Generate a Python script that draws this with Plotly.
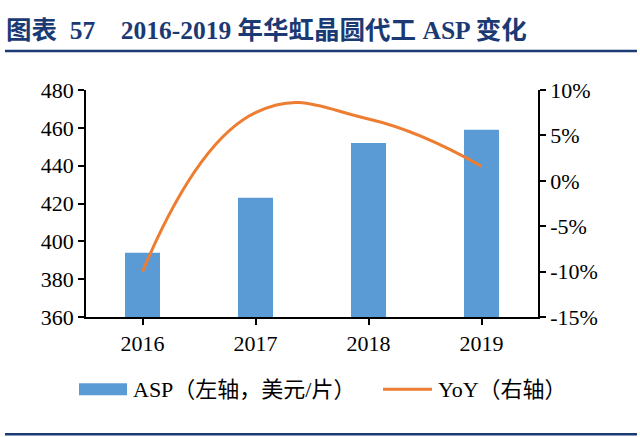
import plotly.graph_objects as go

years = ["2016", "2017", "2018", "2019"]
asp = [394, 423, 452, 459]
yoy = [-0.10, 0.075, 0.068, 0.016]

y1_range = [360, 480]
y2_ticks = [-0.15, -0.10, -0.05, 0.0, 0.05, 0.10]
y2_labels = ["-15%", "-10%", "-5%", "0%", "5%", "10%"]

NB = "\u00a0"
title_text = "图表" + NB * 2 + "57" + NB * 4 + "2016-2019 年华虹晶圆代工 ASP 变化"
asp_name = "ASP（左轴，美元/片）"
yoy_name = "YoY（右轴）"

W, H = 640, 437
L, R, T, B = 86, 538, 89.5, 316.7
PW, PH = R - L, B - T


def px(x):
    return (x - L) / PW


def py(y):
    return (B - y) / PH


FONT = "Liberation Serif, Times New Roman, Noto Sans CJK SC, serif"
NAVY = "#1B3A74"
BLUE = "#5B9BD5"
ORANGE = "#ED7D31"

fig = go.Figure()
fig.add_trace(go.Bar(x=years, y=asp, name=asp_name, marker_color=BLUE,
                     marker_line_width=0, yaxis="y", showlegend=False))
fig.add_trace(go.Scatter(x=years, y=yoy, name=yoy_name, mode="lines",
                         line=dict(color=ORANGE, width=3, shape="spline", smoothing=1.3),
                         yaxis="y2", showlegend=False))

axis_common = dict(showline=True, linecolor="black", linewidth=1.5, ticks="outside",
                   ticklen=6, tickcolor="black", tickwidth=1.5, showgrid=False,
                   zeroline=False, automargin=False)

fig.update_layout(
    template="none",
    width=W, height=H,
    margin=dict(l=L, r=W - R, t=T, b=H - B, autoexpand=False),
    paper_bgcolor="white", plot_bgcolor="white",
    font=dict(family=FONT, size=22, color="black"),
    bargap=0.69,
    showlegend=False,
    title=dict(text=title_text, xref="container", yref="container",
               x=6 / W, xanchor="left", y=1 - 30 / H, yanchor="middle",
               font=dict(family=FONT, size=25.5, color=NAVY, weight="bold")),
    xaxis=dict(tickson="boundaries", tickfont=dict(size=22), **axis_common),
    yaxis=dict(range=y1_range, dtick=20, tickfont=dict(size=22), **axis_common),
    yaxis2=dict(range=[-0.15, 0.10], overlaying="y", side="right", tickvals=y2_ticks,
                ticktext=y2_labels, tickfont=dict(size=22), **axis_common),
    shapes=[
        dict(type="line", xref="paper", yref="paper", x0=px(5), x1=px(637),
             y0=py(50.5), y1=py(50.5), line=dict(color=NAVY, width=2.5)),
        dict(type="line", xref="paper", yref="paper", x0=px(5), x1=px(637),
             y0=py(434), y1=py(434), line=dict(color=NAVY, width=2.5)),
        dict(type="rect", xref="paper", yref="paper", x0=px(79), x1=px(127),
             y0=py(395), y1=py(383), fillcolor=BLUE, line=dict(width=0)),
        dict(type="line", xref="paper", yref="paper", x0=px(383), x1=px(432),
             y0=py(389), y1=py(389), line=dict(color=ORANGE, width=3)),
    ],
    annotations=[
        dict(text=asp_name, xref="paper", yref="paper", x=px(131), y=py(389),
             xanchor="left", yanchor="middle", showarrow=False,
             font=dict(family=FONT, size=22, color="black")),
        dict(text=yoy_name, xref="paper", yref="paper", x=px(436), y=py(389),
             xanchor="left", yanchor="middle", showarrow=False,
             font=dict(family=FONT, size=22, color="black")),
    ],
)

fig.write_html("out.html", config={"displayModeBar": False},
               post_script="document.body.style.margin='0';document.body.style.padding='0';")
